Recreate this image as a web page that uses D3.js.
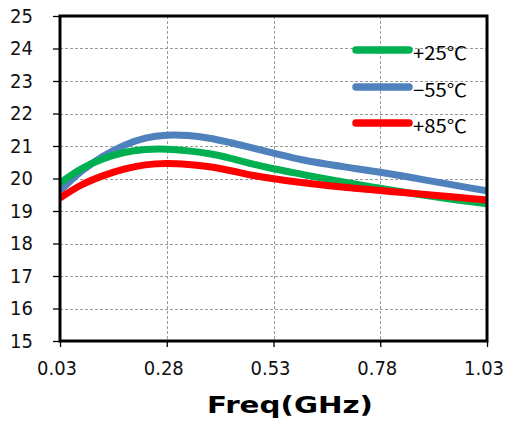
<!DOCTYPE html>
<html><head><meta charset="utf-8">
<script src="https://cdn.jsdelivr.net/npm/d3@7"></script>
<style>body{margin:0;background:#fff}svg{display:block}</style>
</head><body>
<script>
const freq  = [0.03,0.08,0.13,0.18,0.23,0.28,0.33,0.38,0.43,0.48,0.53,0.60,0.66,0.72,0.78,0.84,0.90,0.96,1.03];
const p25   = [19.86,20.30,20.60,20.80,20.89,20.90,20.85,20.76,20.62,20.45,20.30,20.12,19.97,19.83,19.70,19.57,19.45,19.34,19.22];
const m55   = [19.62,20.22,20.68,21.02,21.24,21.33,21.32,21.24,21.10,20.94,20.78,20.57,20.43,20.31,20.19,20.06,19.92,19.78,19.62];
const p85   = [19.40,19.80,20.08,20.29,20.42,20.46,20.43,20.36,20.24,20.10,19.99,19.87,19.78,19.70,19.63,19.56,19.49,19.42,19.34];
const seriesNames = ["+25℃","−55℃","+85℃"];
const seriesColors = ["#00B050","#4F81BD","#FF0000"];
const xTicks = [0.03,0.28,0.53,0.78,1.03];
const yTicks = [15,16,17,18,19,20,21,22,23,24,25];

const W=505,H=421;
const L=60,R=487,T=16,B=341;
const svg=d3.select("body").append("svg").attr("width",W).attr("height",H);
const x=d3.scaleLinear().domain([0.03,1.03]).range([L,R]);
const y=d3.scaleLinear().domain([15,25]).range([B,T]);
const tickFont="'DejaVu Sans Condensed','DejaVu Sans',sans-serif";

// grid
const grid=svg.append("g").attr("stroke","#9a9a9a").attr("stroke-width",1).attr("stroke-dasharray","3,2");
yTicks.slice(1,-1).forEach(v=>grid.append("line").attr("x1",L).attr("x2",R).attr("y1",Math.round(y(v))+0.5).attr("y2",Math.round(y(v))+0.5));
xTicks.slice(1,-1).forEach(v=>grid.append("line").attr("y1",T).attr("y2",B).attr("x1",Math.round(x(v))+0.5).attr("x2",Math.round(x(v))+0.5));

// axes
const yAxis=svg.append("g").attr("transform",`translate(${L},0)`)
  .call(d3.axisLeft(y).tickValues(yTicks).tickSize(7).tickPadding(20).tickFormat(d3.format("d")));
const xAxis=svg.append("g").attr("transform",`translate(0,${B})`)
  .call(d3.axisBottom(x).tickValues(xTicks).tickSize(6).tickPadding(14).tickFormat(d3.format(".2f")));
[yAxis,xAxis].forEach(g=>{
  g.select(".domain").remove();
  g.selectAll(".tick line").attr("stroke","#000").attr("stroke-width",1.3);
  g.selectAll("text").attr("font-family",tickFont).attr("font-size",20).attr("fill","#111");
});
xAxis.selectAll("text").attr("dx",-3.5);

// clip + lines
svg.append("clipPath").attr("id","clip").append("rect").attr("x",L).attr("y",T).attr("width",R-L).attr("height",B-T);
const line=d3.line().x((d,i)=>x(freq[i])).y(d=>y(d)).curve(d3.curveCatmullRom.alpha(0.5));
const data=[p25,m55,p85];
const drawOrder=[1,0,2];
drawOrder.forEach(i=>{
  svg.append("path").attr("clip-path","url(#clip)").attr("d",line(data[i]))
    .attr("fill","none").attr("stroke",seriesColors[i]).attr("stroke-width",7).attr("stroke-linejoin","round");
});

// frame
svg.append("rect").attr("x",L).attr("y",T).attr("width",R-L).attr("height",B-T)
  .attr("fill","none").attr("stroke","#000").attr("stroke-width",3);

// legend
const legY=[50,87,123];
seriesNames.forEach((n,i)=>{
  svg.append("line").attr("x1",356).attr("x2",409).attr("y1",legY[i]).attr("y2",legY[i])
    .attr("stroke",seriesColors[i]).attr("stroke-width",7.5).attr("stroke-linecap","round");
  svg.append("text").attr("x",413).attr("y",legY[i]+10).text(n)
    .attr("font-family","'Noto Sans CJK JP',sans-serif").attr("font-size",18).attr("fill","#000")
    .attr("textLength",54).attr("lengthAdjust","spacingAndGlyphs");
});

// axis title
svg.append("text").attr("x",290).attr("y",413).attr("text-anchor","middle")
  .attr("font-family","'DejaVu Sans',sans-serif").attr("font-weight","bold").attr("font-size",23)
  .attr("textLength",166).attr("lengthAdjust","spacingAndGlyphs").text("Freq(GHz)");
</script>
</body></html>
